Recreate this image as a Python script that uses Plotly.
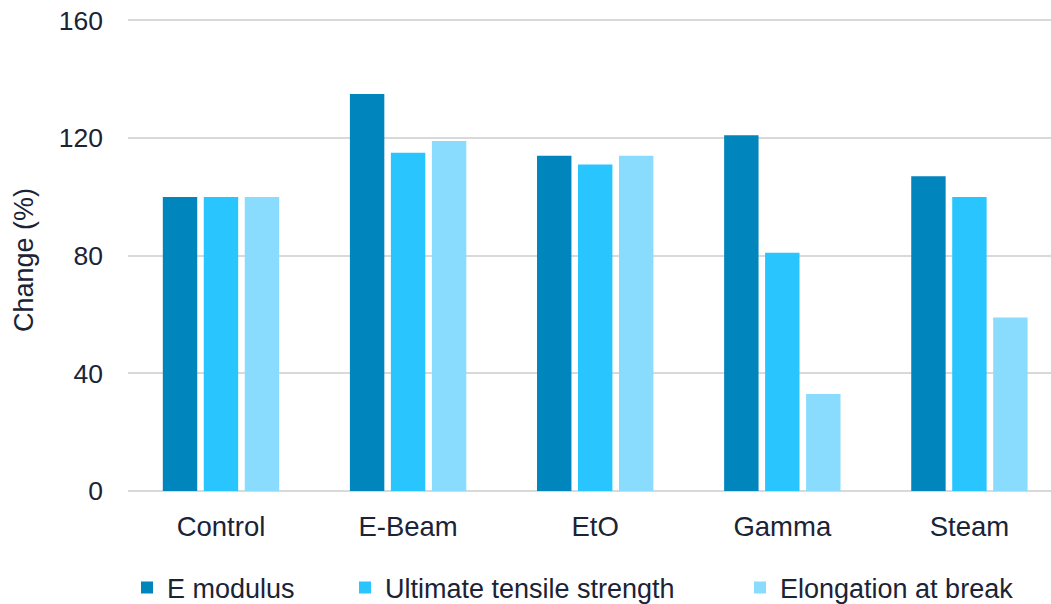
import plotly.graph_objects as go

categories = ["Control", "E-Beam", "EtO", "Gamma", "Steam"]
e_modulus = [100, 135, 114, 121, 107]
tensile = [100, 115, 111, 81, 100]
elongation = [100, 119, 114, 33, 59]
series_names = ["E modulus", "Ultimate tensile strength", "Elongation at break"]
colors = ["#0085BD", "#29C5FF", "#8ADCFF"]
y_ticks = [0, 40, 80, 120, 160]
y_title = "Change (%)"

TEXT = "#1B2336"
FONT = "Liberation Sans, Arial, Helvetica, sans-serif"
FS = 27

fig = go.Figure()
legend_ids = ["legend", "legend2", "legend3"]
for name, vals, col, lg in zip(series_names, [e_modulus, tensile, elongation], colors, legend_ids):
    fig.add_trace(go.Bar(x=categories, y=vals, name=name, marker=dict(color=col, line=dict(width=0)),
                         legend=lg, showlegend=True))

# body margin is removed in the page (post_script), so page coords == figure coords
W, H = 1051, 604
ml, mr, mt, mb = 128, 0, 19, 113
pw = W - ml - mr
ph = H - mt - mb

def page_x_to_paper(px):
    return (px - ml) / pw

def page_y_to_paper(py):
    return (H - mb - py) / ph

leg_common = dict(orientation="h", font=dict(size=FS, color=TEXT, family=FONT),
                  bgcolor="rgba(0,0,0,0)", yanchor="middle", xanchor="left",
                  itemwidth=30, tracegroupgap=0, visible=True)
legend_page_x = [127, 345, 740]
legend_page_y = 588

fig.update_layout(
    width=W, height=H,
    margin=dict(l=ml, r=mr, t=mt, b=mb, autoexpand=False),
    showlegend=True,
    plot_bgcolor="white", paper_bgcolor="white",
    font=dict(family=FONT, color=TEXT, size=FS),
    barmode="group", bargap=0.343, bargroupgap=0.16,
    legend=dict(x=page_x_to_paper(legend_page_x[0]), y=page_y_to_paper(legend_page_y), **leg_common),
    legend2=dict(x=page_x_to_paper(legend_page_x[1]), y=page_y_to_paper(legend_page_y), **leg_common),
    legend3=dict(x=page_x_to_paper(legend_page_x[2]), y=page_y_to_paper(legend_page_y), **leg_common),
    xaxis=dict(range=[-0.497, 4.436], showgrid=False, showline=False, zeroline=False,
               ticks="", tickfont=dict(size=27.5, color=TEXT, family=FONT), ticklabelstandoff=16),
    yaxis=dict(range=[0, 160.5], tickvals=y_ticks, showgrid=True, gridcolor="#D9D9D9", gridwidth=1.5,
               zeroline=True, zerolinecolor="#D9D9D9", zerolinewidth=1.5, showline=False, ticks="",
               tickfont=dict(size=26.5, color=TEXT, family=FONT), ticklabelstandoff=24,
               ticklabeloverflow="allow"),
    annotations=[dict(text=y_title, textangle=-90, xref="paper", yref="paper",
                      x=page_x_to_paper(24), y=page_y_to_paper(260),
                      xanchor="center", yanchor="middle", showarrow=False,
                      font=dict(size=FS, color=TEXT, family=FONT))],
)

fig.write_html("out.html", config={"displayModeBar": False},
               post_script="document.body.style.margin='0';document.body.style.overflow='hidden';")
